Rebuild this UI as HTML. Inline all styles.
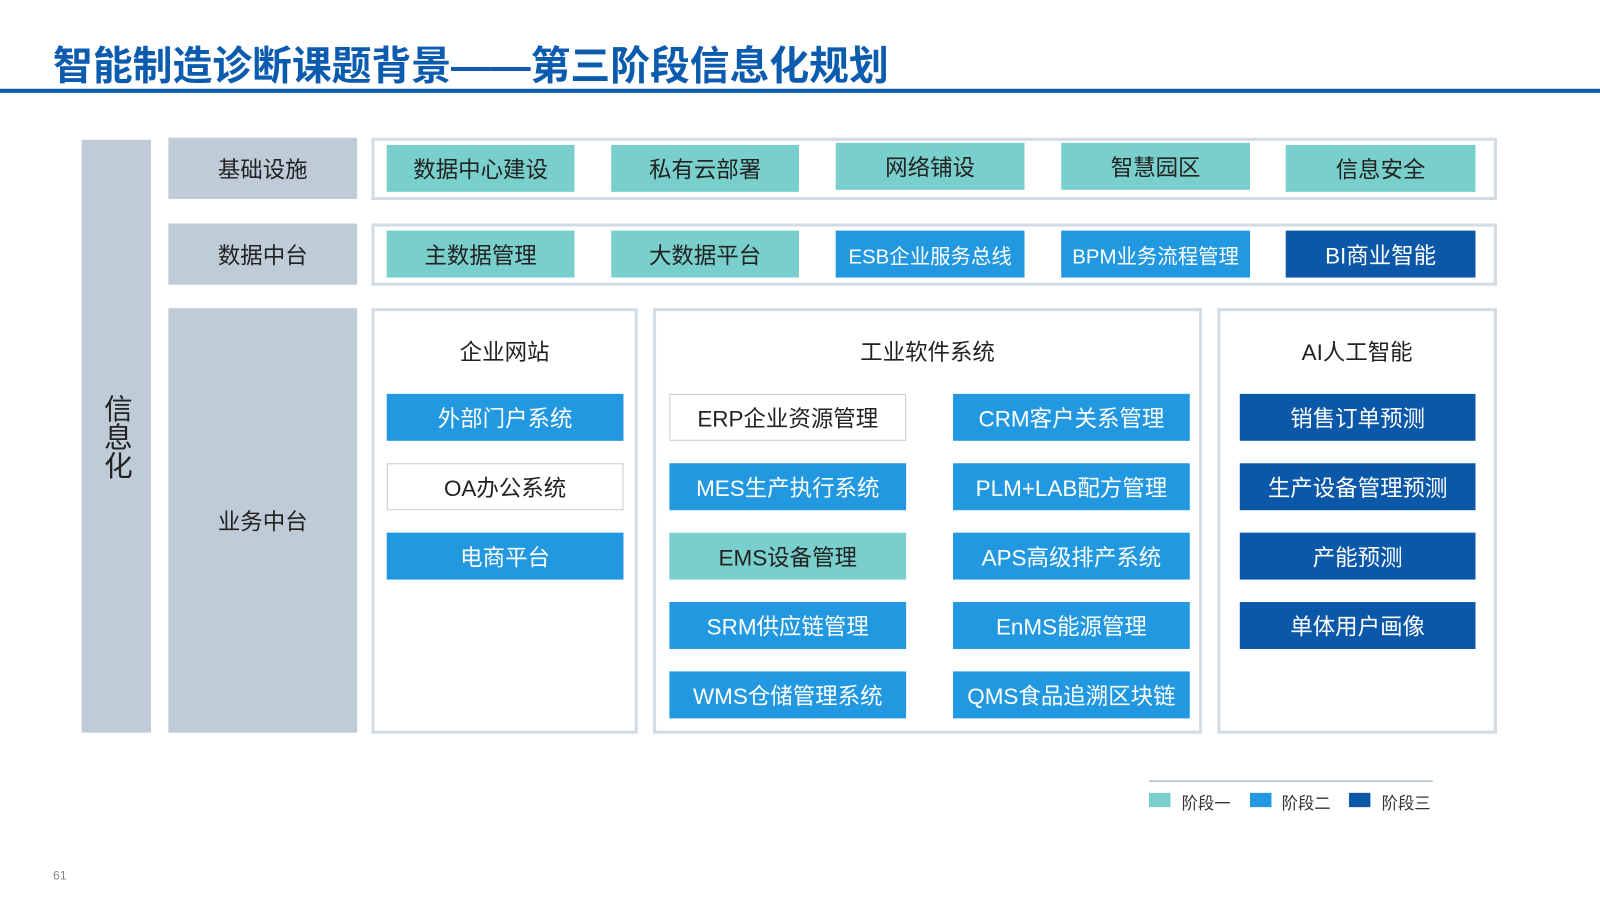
<!DOCTYPE html>
<html><head><meta charset="utf-8"><style>
html,body{margin:0;padding:0;background:#fff;}
body{width:1600px;height:900px;overflow:hidden;position:relative;font-family:"Liberation Sans","Noto Sans CJK SC",sans-serif;}
#w{position:absolute;left:0;top:0;width:1568px;height:882px;transform:scale(1.0204);transform-origin:0 0;}
.a{position:absolute;box-sizing:border-box;display:flex;align-items:center;justify-content:center;font-size:22px;color:#222;}
.g{background:#BFCCD8;}
.t{background:#79CFCB;}
.m{background:#2198E0;color:#fff;}
.d{background:#0B57A8;color:#fff;}
.wh{background:#fff;border:1px solid #ccc;}
.box{position:absolute;box-sizing:border-box;border:3px solid #D3DBE3;}
.h{position:absolute;font-size:22px;color:#222;text-align:center;}
</style></head><body><div id="w">
<div style="position:absolute;left:52px;top:34px;font-size:39px;font-weight:bold;color:#0B5BAF;letter-spacing:0px;">智能制造诊断课题背景——第三阶段信息化规划</div>
<div style="position:absolute;left:0;top:87px;width:1568px;height:4px;background:#0B5BAF;"></div>

<div class="a g" style="left:80px;top:137px;width:68px;height:581px;font-size:28px;line-height:30px;writing-mode:vertical-rl;">信息化</div>
<div class="a g" style="left:165px;top:135px;width:185px;height:60px;">基础设施</div>
<div class="a g" style="left:165px;top:219px;width:185px;height:60px;">数据中台</div>
<div class="a g" style="left:165px;top:302px;width:185px;height:416px;">业务中台</div>

<div class="box" style="left:364px;top:135px;width:1103px;height:61px;"></div>
<div class="a t" style="left:379px;top:142px;width:184px;height:46px;">数据中心建设</div>
<div class="a t" style="left:599px;top:142px;width:184px;height:46px;">私有云部署</div>
<div class="a t" style="left:819px;top:140px;width:185px;height:46px;">网络铺设</div>
<div class="a t" style="left:1040px;top:140px;width:185px;height:46px;">智慧园区</div>
<div class="a t" style="left:1260px;top:142px;width:186px;height:46px;">信息安全</div>

<div class="box" style="left:364px;top:219px;width:1103px;height:61px;"></div>
<div class="a t" style="left:379px;top:226px;width:184px;height:46px;">主数据管理</div>
<div class="a t" style="left:599px;top:226px;width:184px;height:46px;">大数据平台</div>
<div class="a m" style="left:819px;top:226px;width:185px;height:46px;font-size:20px;">ESB企业服务总线</div>
<div class="a m" style="left:1040px;top:226px;width:185px;height:46px;font-size:20px;">BPM业务流程管理</div>
<div class="a d" style="left:1260px;top:226px;width:186px;height:46px;">BI商业智能</div>

<div class="box" style="left:364px;top:302px;width:261px;height:417px;"></div>
<div class="box" style="left:640px;top:302px;width:538px;height:417px;"></div>
<div class="box" style="left:1193px;top:302px;width:274px;height:417px;"></div>
<div class="h" style="left:364px;top:328px;width:261px;">企业网站</div>
<div class="h" style="left:640px;top:328px;width:538px;">工业软件系统</div>
<div class="h" style="left:1193px;top:328px;width:274px;">AI人工智能</div>

<div class="a m" style="left:379px;top:386px;width:232px;height:46px;">外部门户系统</div>
<div class="a wh" style="left:379px;top:454px;width:232px;height:46px;">OA办公系统</div>
<div class="a m" style="left:379px;top:522px;width:232px;height:46px;">电商平台</div>

<div class="a wh" style="left:656px;top:386px;width:232px;height:46px;">ERP企业资源管理</div>
<div class="a m" style="left:656px;top:454px;width:232px;height:46px;">MES生产执行系统</div>
<div class="a t" style="left:656px;top:522px;width:232px;height:46px;">EMS设备管理</div>
<div class="a m" style="left:656px;top:590px;width:232px;height:46px;">SRM供应链管理</div>
<div class="a m" style="left:656px;top:658px;width:232px;height:46px;">WMS仓储管理系统</div>

<div class="a m" style="left:934px;top:386px;width:232px;height:46px;">CRM客户关系管理</div>
<div class="a m" style="left:934px;top:454px;width:232px;height:46px;">PLM+LAB配方管理</div>
<div class="a m" style="left:934px;top:522px;width:232px;height:46px;">APS高级排产系统</div>
<div class="a m" style="left:934px;top:590px;width:232px;height:46px;">EnMS能源管理</div>
<div class="a m" style="left:934px;top:658px;width:232px;height:46px;">QMS食品追溯区块链</div>

<div class="a d" style="left:1215px;top:386px;width:231px;height:46px;">销售订单预测</div>
<div class="a d" style="left:1215px;top:454px;width:231px;height:46px;">生产设备管理预测</div>
<div class="a d" style="left:1215px;top:522px;width:231px;height:46px;">产能预测</div>
<div class="a d" style="left:1215px;top:590px;width:231px;height:46px;">单体用户画像</div>

<div style="position:absolute;left:1126px;top:765px;width:278px;height:1px;background:#8A9AAA;"></div>
<div class="t" style="position:absolute;left:1126px;top:777px;width:21px;height:14px;"></div>
<div style="position:absolute;left:1158px;top:774px;font-size:16px;color:#333;">阶段一</div>
<div class="m" style="position:absolute;left:1225px;top:777px;width:21px;height:14px;"></div>
<div style="position:absolute;left:1256px;top:774px;font-size:16px;color:#333;">阶段二</div>
<div class="d" style="position:absolute;left:1322px;top:777px;width:21px;height:14px;"></div>
<div style="position:absolute;left:1354px;top:774px;font-size:16px;color:#333;">阶段三</div>
<div style="position:absolute;left:52px;top:851px;font-size:12px;color:#888;">61</div>
</div></body></html>
